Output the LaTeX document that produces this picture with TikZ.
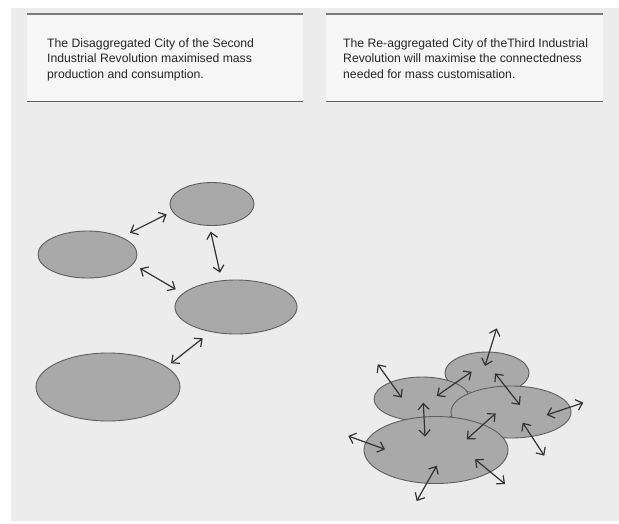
\documentclass[tikz,border=0pt]{standalone}
\usepackage{fontspec}
\setmainfont{Liberation Sans}
\usetikzlibrary{shapes.geometric,arrows.meta}

\definecolor{paper}{HTML}{ECECEC}
\definecolor{panelfill}{HTML}{F6F6F6}
\definecolor{rulegray}{HTML}{7A7A7A}
\definecolor{cityfill}{HTML}{A9A9A9}
\definecolor{cityedge}{HTML}{5E5E5E}
\definecolor{ink}{HTML}{333333}

\tikzset{
	city/.style={ellipse, draw=cityedge, fill=cityfill, line width=0.9pt, inner sep=0pt},
	link/.style={<->, >={Straight Barb[length=6pt,width=11pt]}, draw=ink, line width=1.2pt},
	panelbox/.style={anchor=north west, fill=panelfill, inner sep=0pt, minimum height=87pt},
	caption/.style={anchor=north west, align=left, inner sep=0pt, text=black!85,
		font=\fontsize{12.2}{15.8}\selectfont}
}

\begin{document}
\begin{tikzpicture}[x=1pt, y=-1pt]
	\useasboundingbox (0,0) rectangle (619,523);
	\fill[white] (0,0) rectangle (619,523);
	\fill[paper] (11,8) rectangle (619,521);
	
	% caption panels
	\node[panelbox, minimum width=276pt] (leftpanel) at (27,14) {};
	\node[panelbox, minimum width=277pt] (rightpanel) at (326,14) {};
	\foreach \p in {leftpanel, rightpanel}
	{
		\draw[rulegray, line width=1.6pt] (\p.north west) -- (\p.north east);
		\draw[rulegray!80!black, line width=1.6pt] (\p.south west) -- (\p.south east);
	}
	\node[caption] (lefttext) at (47,38) {The Disaggregated City of the Second\\
		Industrial Revolution maximised mass\\production and consumption.};
	\node[caption] (righttext) at (343,38) {The Re-aggregated City of theThird Industrial\\
		Revolution will maximise the connectedness\\needed for mass customisation.};
	
	% disaggregated city
	\node[city, minimum width=84pt, minimum height=43pt] (oldnorth) at (212,204) {};
	\node[city, minimum width=99pt, minimum height=47pt] (oldwest) at (87.5,254.5) {};
	\node[city, minimum width=122pt, minimum height=54pt] (oldeast) at (236,307) {};
	\node[city, minimum width=144pt, minimum height=68pt] (oldsouth) at (108,387) {};
	
	% re-aggregated city
	\node[city, minimum width=84pt, minimum height=42pt] (newtop) at (487,373) {};
	\node[city, minimum width=96pt, minimum height=44pt] (newleft) at (422,399) {};
	\node[city, minimum width=120pt, minimum height=52pt] (newright) at (511,412) {};
	\node[city, minimum width=144pt, minimum height=67pt] (newbig) at (436,450) {};
	
	% links
	\foreach \name/\ax/\ay/\bx/\by in {
		wn/130/232.7/166.7/214.3, ne/210.7/231.7/220/272.7,
		we/140/268.3/175.7/289.3, se/171/363.3/202.7/338.3,
		up/496.7/328.3/485/366, nw/377.7/364.3/401.7/397.7,
		lt/436.7/396/471.7/371.7, tr/495/373.3/520/405,
		rr/546.7/415/583.3/402.7, lb/423.3/402.7/425/436.7,
		br/466.7/439.3/495.7/413.3, rd/522.7/422.7/544.3/455.7,
		ll/348.3/436/385/449.3, bl/416.7/501/436.7/465.7,
		bd/475/459.3/505/484}
	{
		\coordinate (\name-a) at (\ax,\ay);
		\coordinate (\name-b) at (\bx,\by);
		\draw[link] (\name-a) -- (\name-b);
	}
\end{tikzpicture}
\end{document}
